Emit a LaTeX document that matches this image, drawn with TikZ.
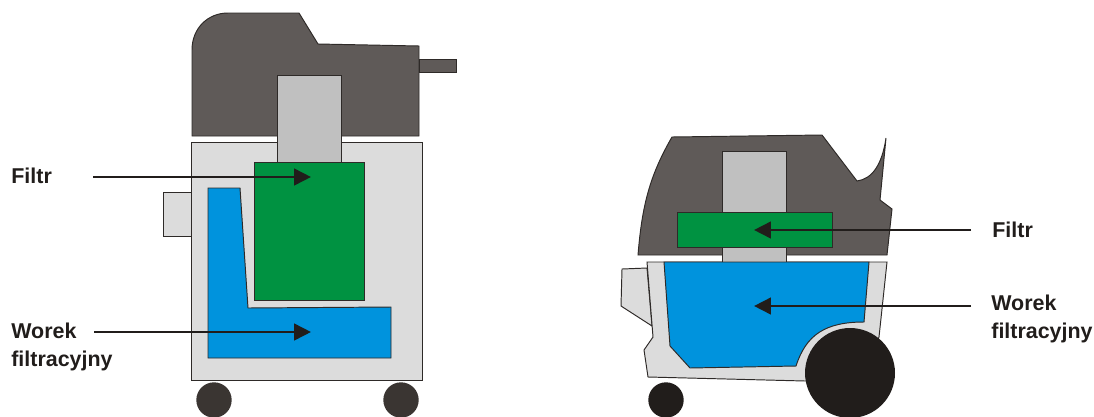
\documentclass[tikz,border=0pt]{standalone}
\usepackage{fontspec}
\setmainfont{Liberation Sans}
\usetikzlibrary{arrows.meta}

\definecolor{headgrey}{HTML}{5F5A58}
\definecolor{tubegrey}{HTML}{C0C0C0}
\definecolor{bodygrey}{HTML}{DCDCDC}
\definecolor{filtergreen}{HTML}{009241}
\definecolor{bagblue}{HTML}{0093DD}
\definecolor{edgedark}{HTML}{2E2A28}
\definecolor{wheeldark}{HTML}{3A3532}
\definecolor{wheelblack}{HTML}{211D1B}

\tikzset{
  part/.style={draw=edgedark,line width=0.55pt,line join=miter},
  caption/.style={anchor=west,inner sep=0pt,align=left,font=\fontsize{12.2}{15.9}\selectfont\bfseries,text=wheelblack},
  pointer/.style={-{Triangle[length=9.6pt,width=9.4pt]},draw=wheelblack,line width=1.5pt},
  wheel/.style={circle,inner sep=0pt,fill=#1,draw=none}
}

\begin{document}
\begin{tikzpicture}[x=0.02cm,y=-0.02cm]
\useasboundingbox (0,0) rectangle (1094,416);

\path[part,fill=bodygrey] (163,192) rectangle (191,236);
\path[part,fill=bodygrey] (191,142) rectangle (422,380);
\path[part,fill=headgrey] (192,136) -- (192,50) .. controls (192,28) and (208,13) .. (228,13) -- (299,13) -- (318,44) -- (419,46) -- (419,136) -- cycle;
\path[part,fill=headgrey] (419,59) rectangle (456,72);
\path[part,fill=tubegrey] (277,75) rectangle (341,162);
\path[part,fill=bagblue] (208,188) -- (240,188) -- (248,308) -- (391,307) -- (391,358) -- (208,358) -- cycle;
\path[part,fill=filtergreen] (254,162) rectangle (364,300);

\path[part,fill=bodygrey] (622,269) -- (647,268) -- (652,326) -- (621,306) -- cycle;
\path[part,fill=bodygrey] (647,262) -- (887,262) -- (879,337) -- (860,381) -- (805,381) -- (648,377) -- (644,350) -- (653,337) -- cycle;
\path[part,fill=headgrey] (638,255) .. controls (642,205) and (650,175) .. (672,137) -- (822,135) -- (857,181) .. controls (872,179) and (882,165) .. (886,138) -- (880,200) -- (892,209) -- (887,255) -- cycle;
\path[part,fill=tubegrey] (722,151) rectangle (786,262);
\path[part,fill=bagblue] (664,262) -- (869,262) -- (864,322) .. controls (825,322) and (806,335) .. (796,366) -- (690,368) -- (670,346) -- cycle;
\path[part,fill=filtergreen] (677,212) rectangle (832,247);

\node[wheel=wheeldark,minimum size=0.708cm] (W1) at (214,400) {};
\node[wheel=wheeldark,minimum size=0.708cm] (W2) at (401,400) {};
\node[wheel=wheelblack,minimum size=0.708cm] (W3) at (666,400) {};
\node[wheel=wheelblack,minimum size=1.8cm] (W4) at (850,373) {};

\node[caption] (FL) at (11,176) {Filtr};
\node[caption] (WL) at (11,347) {Worek\\filtracyjny};
\node[caption] (FR) at (992,230) {Filtr};
\node[caption] (WR) at (991,319) {Worek\\filtracyjny};

\coordinate (FLs) at (93,177);
\coordinate (FLe) at (311,177);
\coordinate (WLs) at (94,332);
\coordinate (WLe) at (311,332);
\coordinate (FRs) at (971,230);
\coordinate (FRe) at (754,230);
\coordinate (WRs) at (971,306);
\coordinate (WRe) at (754,306);

\draw[pointer] (FLs) -- (FLe);
\draw[pointer] (WLs) -- (WLe);
\draw[pointer] (FRs) -- (FRe);
\draw[pointer] (WRs) -- (WRe);
\end{tikzpicture}
\end{document}
